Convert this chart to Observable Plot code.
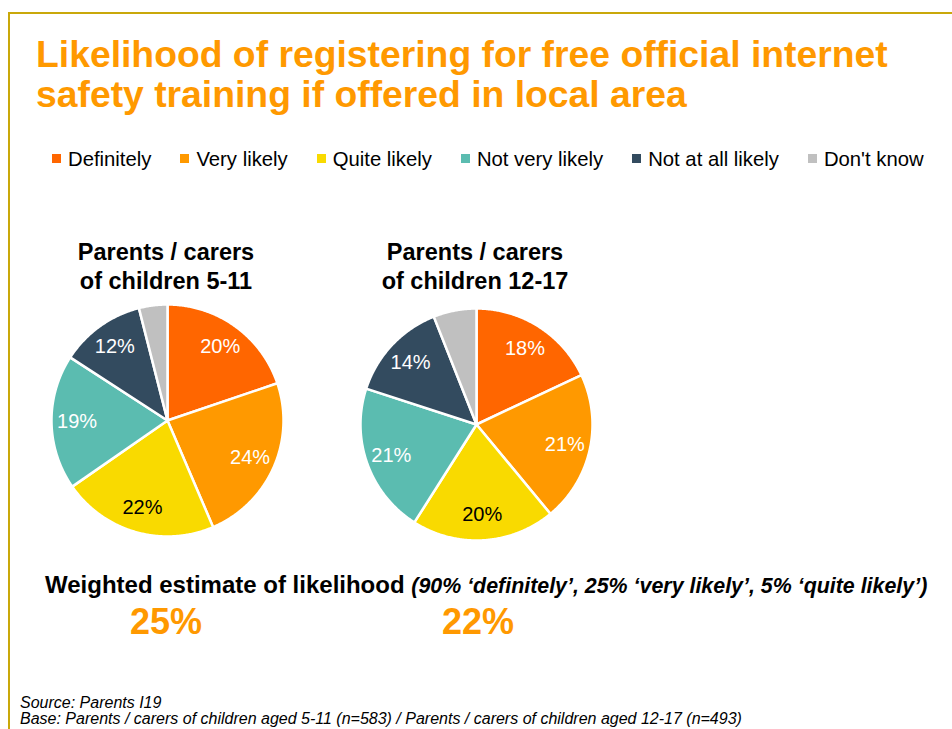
<!DOCTYPE html>
<html><head><meta charset="utf-8">
<script src="https://cdn.jsdelivr.net/npm/d3@7"></script>
<script src="https://cdn.jsdelivr.net/npm/@observablehq/plot@0.6"></script>
<style>
body{margin:0;width:952px;height:729px;position:relative;overflow:hidden;background:#fff;font-family:"Liberation Sans",Arial,sans-serif;color:#000;}
.abs{position:absolute;white-space:nowrap;}
.title{left:36px;top:34px;font-size:37.3px;line-height:40px;font-weight:bold;color:#FF9900;}
.legend{left:52px;top:149px;display:flex;align-items:center;gap:29px;font-size:20.3px;line-height:20px;}
.legend .item{display:flex;align-items:center;gap:7px;}
.legend .sw{width:9px;height:9px;position:relative;top:-1px;}
.pt{top:238px;width:260px;text-align:center;font-size:23.5px;line-height:29px;font-weight:bold;}
.weighted{left:45px;top:571px;font-size:24px;line-height:27px;font-weight:bold;}
.weighted i{font-size:21.4px;}
.est{top:604px;width:200px;text-align:center;font-size:36px;line-height:35px;font-weight:bold;color:#FF9900;}
.source{left:20px;top:695px;font-size:16px;line-height:16px;font-style:italic;color:#000;}
</style></head><body>
<div class="abs" style="left:8px;top:12px;width:944px;height:2px;background:#C9A80A"></div>
<div class="abs" style="left:8px;top:12px;width:2px;height:717px;background:#C9A80A"></div>
<div class="abs title" id="title"></div>
<div class="abs legend" id="legend"></div>
<div class="abs pt" id="pt0" style="left:36px"></div>
<div class="abs pt" id="pt1" style="left:345px"></div>
<div class="abs" id="pie0" style="left:47px;top:300px"></div>
<div class="abs" id="pie1" style="left:356px;top:304px"></div>
<div class="abs weighted" id="weighted"></div>
<div class="abs est" id="est0" style="left:66px"></div>
<div class="abs est" id="est1" style="left:378px"></div>
<div class="abs source" id="source"></div>
<script>
const titleLines = ["Likelihood of registering for free official internet", "safety training if offered in local area"];
const categories = ["Definitely", "Very likely", "Quite likely", "Not very likely", "Not at all likely", "Don't know"];
const colors = ["#FF6600", "#FF9900", "#F9DA00", "#5BBCB0", "#334B5F", "#C0C0C0"];
const groupTitles = [["Parents / carers", "of children 5-11"], ["Parents / carers", "of children 12-17"]];
const values5to11 = [20, 24, 22, 19, 12, 4];
const values12to17 = [18, 21, 20, 21, 14, 6];
const unlabelled = ["Don't know"];
const darkLabelCategories = ["Quite likely"];
const weightedLabel = "Weighted estimate of likelihood";
const weightedNote = "(90% \u2018definitely\u2019, 25% \u2018very likely\u2019, 5% \u2018quite likely\u2019)";
const weightedEstimates = ["25%", "22%"];
const sourceLines = ["Source: Parents I19", "Base: Parents / carers of children aged 5-11 (n=583) / Parents / carers of children aged 12-17 (n=493)"];

document.getElementById("title").innerHTML = titleLines.join("<br>");
const legend = document.getElementById("legend");
categories.forEach((c, i) => {
  const it = document.createElement("div"); it.className = "item";
  const sw = document.createElement("span"); sw.className = "sw"; sw.style.background = colors[i];
  const tx = document.createElement("span"); tx.textContent = c;
  it.append(sw, tx); legend.append(it);
});
groupTitles.forEach((t, i) => document.getElementById("pt" + i).innerHTML = t.join("<br>"));
document.getElementById("weighted").innerHTML = weightedLabel + " <i>" + weightedNote + "</i>";
weightedEstimates.forEach((e, i) => document.getElementById("est" + i).textContent = e);
document.getElementById("source").innerHTML = sourceLines.join("<br>");

function pieChart(values) {
  const arcs = d3.pie().sort(null).value(d => d.value)(categories.map((c, i) => ({category: c, value: values[i]})));
  const pts = [];
  for (const a of arcs) {
    pts.push({category: a.data.category, x: 0, y: 0});
    const n = Math.max(2, Math.ceil((a.endAngle - a.startAngle) / (Math.PI / 360)));
    for (let k = 0; k <= n; k++) {
      const t = a.startAngle + (a.endAngle - a.startAngle) * k / n;
      pts.push({category: a.data.category, x: Math.sin(t), y: Math.cos(t)});
    }
  }
  const labels = arcs.filter(a => !unlabelled.includes(a.data.category)).map(a => {
    const m = (a.startAngle + a.endAngle) / 2;
    return {category: a.data.category, x: 0.78 * Math.sin(m), y: 0.78 * Math.cos(m), text: a.data.value + "%"};
  });
  return Plot.plot({
    width: 240, height: 240, margin: 4,
    style: "font-family:'Liberation Sans',Arial,sans-serif;background:transparent;overflow:visible;",
    x: {domain: [-1, 1], axis: null},
    y: {domain: [-1, 1], axis: null},
    color: {domain: categories, range: colors},
    marks: [
      Plot.line(pts, {x: "x", y: "y", z: "category", fill: "category", stroke: "white", strokeWidth: 2.5, curve: "linear-closed"}),
      Plot.text(labels, {filter: d => !darkLabelCategories.includes(d.category), x: "x", y: "y", text: "text", fill: "white", fontSize: 20}),
      Plot.text(labels, {filter: d => darkLabelCategories.includes(d.category), x: "x", y: "y", text: "text", fill: "black", fontSize: 20})
    ]
  });
}
document.getElementById("pie0").append(pieChart(values5to11));
document.getElementById("pie1").append(pieChart(values12to17));
</script>
</body></html>
